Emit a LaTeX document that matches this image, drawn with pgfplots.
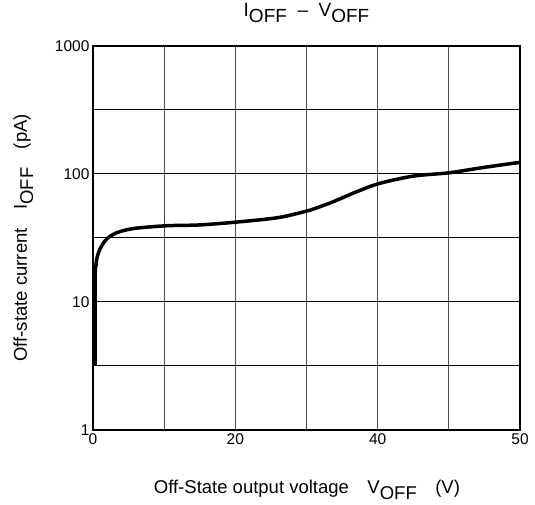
\documentclass[border=0pt]{standalone}
\usepackage{pgfplots}
\pgfplotsset{compat=1.18}
\usepackage{fontspec}
\setmainfont{Liberation Sans}
\newcommand{\off}{\raisebox{-0.33em}{OFF}}
\begin{document}
\begin{tikzpicture}
\begin{axis}[
	scale only axis,
	width=427pt, height=384pt,
	xmin=0, xmax=60,
	ymode=log, ymin=1, ymax=1000,
	xtick={0,10,20,30,40,50,60},
	xticklabels={0,,20,,40,,50},
	ytick={1,3.1623,10,31.623,100,316.23,1000},
	yticklabels={1,,10,,100,,1000},
	major tick length=0pt,
	grid=major,
	major x grid style={black!70, line width=1pt},
	major y grid style={black, line width=1.2pt},
	axis line style={line width=2pt},
	tick label style={font=\fontsize{15.5}{15.5}\selectfont},
	/pgf/number format/assume math mode=true,
	title={I\off\ \ -- \ V\off},
	title style={font=\fontsize{19}{19}\selectfont, at={(axis description cs:0.5,1.061)}, anchor=base},
	xlabel={Off-State output voltage\quad V\off\quad (V)},
	xlabel style={font=\fontsize{18.5}{18.5}\selectfont, at={(axis description cs:0.501,-0.1667)}, anchor=base},
	ylabel={Off-state current\quad I\off\quad (pA)},
	ylabel style={font=\fontsize{18.5}{18.5}\selectfont, at={(axis description cs:-0.1546,0.5)}, anchor=base},
]
\addplot[black, line width=3.5pt, smooth, tension=0.5] coordinates {
	(0.3,3.16) (0.3,15) (0.4,19) (0.6,22.5) (1,26) (1.9,30.9) (3.3,34.6)
	(5.7,37.4) (10.3,39.3) (15,39.9) (20.2,42) (25.8,45.3) (29.1,49.6)
	(30.5,52) (33.7,60.4) (37,72.3) (40.2,84) (45,96) (50.1,102)
	(54.8,112) (60,123)
};
\coordinate (sw) at (rel axis cs:0,0);
\coordinate (ne) at (rel axis cs:1,1);
\end{axis}
\path ([xshift=-93pt,yshift=-75pt]sw) rectangle ([xshift=15pt,yshift=44pt]ne);
\end{tikzpicture}
\end{document}
